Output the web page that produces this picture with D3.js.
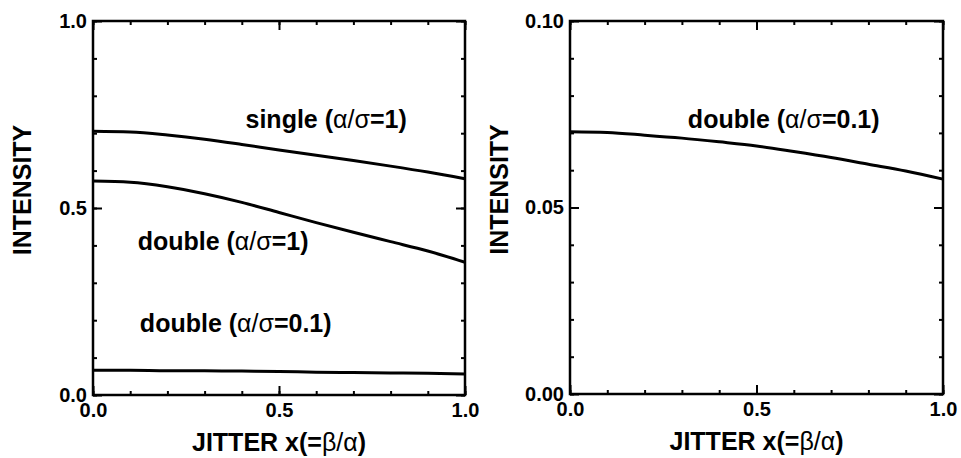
<!DOCTYPE html>
<html>
<head>
<meta charset="utf-8">
<script src="https://cdn.jsdelivr.net/npm/d3@7"></script>
<style>
  body { margin: 0; background: white; }
  svg { display: block; }
  text { font-family: "Liberation Sans", Arial, Helvetica, sans-serif; font-weight: bold; fill: black; }
</style>
</head>
<body>
<script>
// jitter values along the x axis
var jitter = [0.0, 0.1, 0.2, 0.3, 0.4, 0.5, 0.6, 0.7, 0.8, 0.9, 1.0];

// intensity curves
var singleA1 = [0.705, 0.703, 0.695, 0.684, 0.670, 0.655, 0.641, 0.627, 0.612, 0.596, 0.578];
var doubleA1 = [0.572, 0.569, 0.557, 0.538, 0.515, 0.488, 0.461, 0.435, 0.410, 0.385, 0.355];
var doubleA01 = [0.066, 0.066, 0.065, 0.065, 0.064, 0.063, 0.061, 0.060, 0.059, 0.058, 0.056];
var doubleA01Zoom = [0.0703, 0.0701, 0.0694, 0.0686, 0.0676, 0.0665, 0.0650, 0.0634, 0.0616, 0.0598, 0.0576];

// tick labels
var xTicks = [0.0, 0.5, 1.0];
var yTicksLeft = [0.0, 0.5, 1.0];
var yTicksRight = [0.0, 0.05, 0.1];

var svg = d3
  .select("body")
  .append("svg")
  .attr("width", 961)
  .attr("height", 458);

function drawPanel(left, top, w, h, yMax, yTicks, yFmt, curves, labels) {
  var g = svg.append("g").attr("transform", "translate(" + left + "," + top + ")");

  var x = d3.scaleLinear().domain([0, 1]).range([0, w]);
  var y = d3.scaleLinear().domain([0, yMax]).range([h, 0]);

  var minorX = d3.range(0, 1.0001, 0.1);
  var minorY = d3.range(0, yMax * 1.0001, yMax / 10);

  // minor ticks on all four sides (inward)
  g.append("g").attr("transform", "translate(0," + h + ")")
    .call(d3.axisBottom(x).tickValues(minorX).tickSize(-4).tickFormat(""));
  g.append("g")
    .call(d3.axisTop(x).tickValues(minorX).tickSize(-4).tickFormat(""));
  g.append("g")
    .call(d3.axisLeft(y).tickValues(minorY).tickSize(-4).tickFormat(""));
  g.append("g").attr("transform", "translate(" + w + ",0)")
    .call(d3.axisRight(y).tickValues(minorY).tickSize(-4).tickFormat(""));

  // major ticks with labels
  g.append("g").attr("transform", "translate(0," + h + ")")
    .call(d3.axisBottom(x).tickValues(xTicks).tickSize(-9).tickPadding(8).tickFormat(d3.format(".1f")));
  g.append("g")
    .call(d3.axisTop(x).tickValues(xTicks).tickSize(-9).tickFormat(""));
  g.append("g")
    .call(d3.axisLeft(y).tickValues(yTicks).tickSize(-9).tickPadding(6).tickFormat(d3.format(yFmt)));
  g.append("g").attr("transform", "translate(" + w + ",0)")
    .call(d3.axisRight(y).tickValues(yTicks).tickSize(-9).tickFormat(""));

  g.selectAll(".domain").remove();
  g.selectAll(".tick line").attr("stroke", "black").attr("stroke-width", 2);
  g.selectAll(".tick text")
    .style("font-size", "20px")
    .style("font-family", "'Liberation Sans', Arial, sans-serif")
    .style("font-weight", "bold")
    .attr("fill", "black");

  // frame
  g.append("rect")
    .attr("x", 0)
    .attr("y", 0)
    .attr("width", w)
    .attr("height", h)
    .attr("fill", "none")
    .attr("stroke", "black")
    .attr("stroke-width", 2.5);

  var line = d3.line()
    .x(function (d, i) { return x(jitter[i]); })
    .y(function (d) { return y(d); })
    .curve(d3.curveMonotoneX);

  curves.forEach(function (c) {
    g.append("path")
      .attr("d", line(c))
      .attr("fill", "none")
      .attr("stroke", "black")
      .attr("stroke-width", 3);
  });

  labels.forEach(function (l) {
    var t = g.append("text")
      .attr("x", x(l.x))
      .attr("y", y(l.y))
      .style("font-size", "25px");
    t.append("tspan").text(l.name + " (");
    t.append("tspan").style("font-weight", "normal").text("α/σ");
    t.append("tspan").text("=" + l.ratio + ")");
  });

  // axis titles
  var xt = g.append("text")
    .attr("x", w / 2)
    .attr("y", h + 56)
    .attr("text-anchor", "middle")
    .style("font-size", "25px");
  xt.append("tspan").text("JITTER x(=");
  xt.append("tspan").style("font-weight", "normal").text("β/α");
  xt.append("tspan").text(")");

  g.append("text")
    .attr("transform", "translate(-62," + (h / 2 - 18) + ") rotate(-90)")
    .attr("text-anchor", "middle")
    .style("font-size", "25px")
    .text("INTENSITY");
}

drawPanel(93, 21, 372, 374, 1.0, yTicksLeft, ".1f",
  [singleA1, doubleA1, doubleA01],
  [
    { name: "single", ratio: "1", x: 0.41, y: 0.714 },
    { name: "double", ratio: "1", x: 0.12, y: 0.388 },
    { name: "double", ratio: "0.1", x: 0.126, y: 0.168 }
  ]);

drawPanel(570, 21, 373, 373, 0.1, yTicksRight, ".2f",
  [doubleA01Zoom],
  [
    { name: "double", ratio: "0.1", x: 0.316, y: 0.0713 }
  ]);
</script>
</body>
</html>
